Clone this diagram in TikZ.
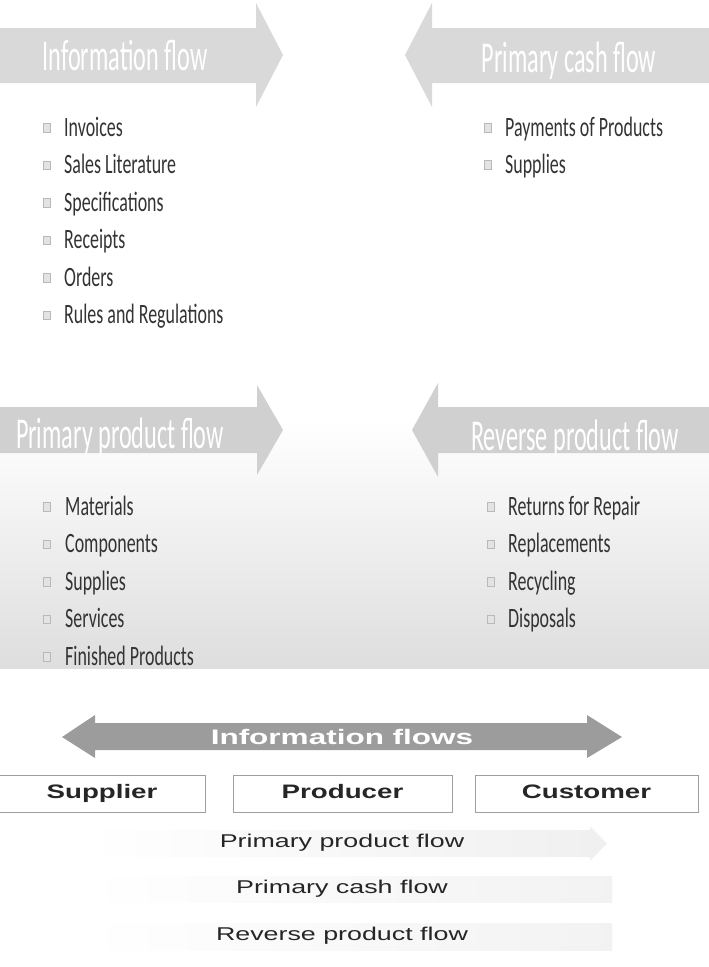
\documentclass[tikz,border=0pt]{standalone}
\usepackage{fontspec}
\usetikzlibrary{positioning}
\newfontfamily\titlefont[FakeStretch=0.55]{Carlito}
\newfontfamily\itemfont[FakeStretch=0.64]{Carlito}
\newfontfamily\partyfont[FakeStretch=1.42]{Liberation Sans}
\newfontfamily\bandfont[FakeStretch=1.5]{Liberation Sans}
\newfontfamily\labelfont[FakeStretch=1.45]{Liberation Sans}
\definecolor{arrowlight}{HTML}{D9D9D9}
\definecolor{arrowmid}{HTML}{D0D0D0}
\definecolor{arrowdark}{HTML}{9C9C9C}
\definecolor{itemgray}{HTML}{333333}
\tikzset{
  flowtitle/.style={anchor=base, inner sep=0pt, text=white, font=\titlefont\fontsize{44}{44}\selectfont},
  listitem/.style={anchor=base west, inner sep=0pt, text=itemgray, font=\itemfont\fontsize{28}{28}\selectfont},
  bulletbox/.style={draw=gray!55, fill=gray!22, line width=0.6pt, minimum width=6.5pt, minimum height=8.5pt, inner sep=0pt},
  party/.style={draw=gray!75, line width=0.8pt, minimum height=37pt, inner sep=0pt, text height=14pt, text depth=4pt,
    text=black!85, font=\partyfont\bfseries\fontsize{19.5}{19.5}\selectfont},
  flowlabel/.style={inner sep=0pt, text=black!85, font=\labelfont\fontsize{18.5}{18.5}\selectfont}
}

\begin{document}
\begin{tikzpicture}[x=1pt,y=-1pt]
  \useasboundingbox (0,0) rectangle (709,967);

  % grey backdrop of the product flows
  \shade[top color=white, bottom color=gray!26] (0,420) rectangle (709,668);

  % the four block arrows
  \fill[arrowlight] (0,28) -- (256,28) -- (256,3) -- (283,55) -- (256,107) -- (256,83) -- (0,83) -- cycle;
  \fill[arrowlight] (709,28) -- (432,28) -- (432,3) -- (405,55) -- (432,107) -- (432,83) -- (709,83) -- cycle;
  \fill[arrowmid] (0,407) -- (257,407) -- (257,385) -- (283,430) -- (257,475) -- (257,453) -- (0,453) -- cycle;
  \fill[arrowmid] (709,407) -- (438,407) -- (438,383) -- (412,430) -- (438,477) -- (438,453) -- (709,453) -- cycle;

  \node[flowtitle] (infoflow) at (125,70) {Information flow};
  \node[flowtitle] (cashflow) at (569,72) {Primary cash flow};
  \node[flowtitle] (prodflow) at (120,448) {Primary product flow};
  \node[flowtitle] (revflow)  at (575,450) {Reverse product flow};

  % bullet lists
  \foreach \txt [count=\i] in {Invoices, Sales Literature, Specifications, Receipts, Orders, Rules and Regulations}{
    \node[listitem] (info\i) at (64,{136+37.5*(\i-1)}) {\txt};
    \node[bulletbox] at ([xshift=-17pt,yshift=8pt]info\i.base west) {};
  }
  \foreach \txt [count=\i] in {Payments of Products, Supplies}{
    \node[listitem] (cash\i) at (505,{136+37*(\i-1)}) {\txt};
    \node[bulletbox] at ([xshift=-17pt,yshift=8pt]cash\i.base west) {};
  }
  \foreach \txt [count=\i] in {Materials, Components, Supplies, Services, Finished Products}{
    \node[listitem] (prod\i) at (65,{515+37.5*(\i-1)}) {\txt};
    \node[bulletbox] at ([xshift=-18pt,yshift=8pt]prod\i.base west) {};
  }
  \foreach \txt [count=\i] in {Returns for Repair, Replacements, Recycling, Disposals}{
    \node[listitem] (rev\i) at (508,{515+37.5*(\i-1)}) {\txt};
    \node[bulletbox] at ([xshift=-17pt,yshift=8pt]rev\i.base west) {};
  }

  % supply chain summary
  \fill[arrowdark] (62,737) -- (95,715) -- (95,723) -- (587,723) -- (587,715) -- (622,737)
    -- (587,758) -- (587,750) -- (95,750) -- (95,758) -- cycle;
  \node[inner sep=0pt, text=white, font=\bandfont\bfseries\fontsize{21}{21}\selectfont] (infoflows) at (342,737) {Information flows};

  \node[party, minimum width=206pt] (supplier) at (102,793.5) {Supplier};
  \node[party, minimum width=219pt] (producer) at (342.5,793.5) {Producer};
  \node[party, minimum width=223pt] (customer) at (586.5,793.5) {Customer};

  \shade[left color=white, right color=gray!12] (86,830) -- (590,830) -- (590,826) -- (607,843.5)
    -- (590,861) -- (590,857) -- (86,857) -- cycle;
  \shade[left color=white, right color=gray!10] (86,876) rectangle (612,902);
  \shade[left color=white, right color=gray!10] (86,923) rectangle (612,950);

  \node[flowlabel] (prodlabel) at (342,843) {Primary product flow};
  \node[flowlabel] (cashlabel) at (342,889) {Primary cash flow};
  \node[flowlabel] (revlabel)  at (342,936) {Reverse product flow};
\end{tikzpicture}
\end{document}
